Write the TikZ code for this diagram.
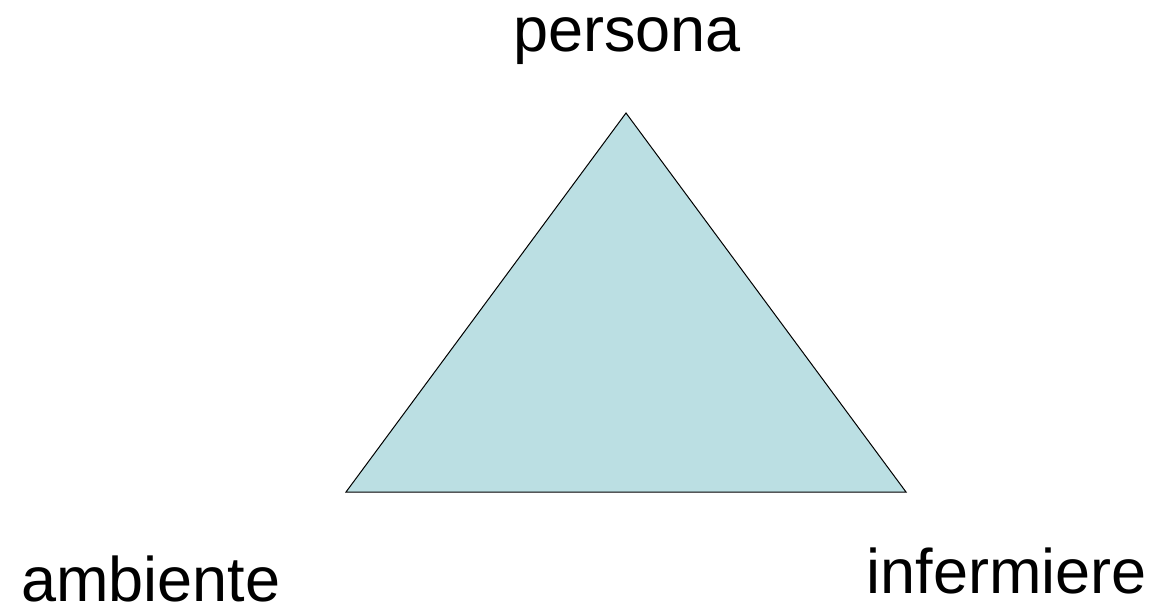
\documentclass[tikz,border=0pt]{standalone}
\usepackage{fontspec}
\setmainfont{Liberation Sans}
\definecolor{trifill}{HTML}{BBDFE3}
\begin{document}
\begin{tikzpicture}[x=1pt,y=-1pt,
  lbl/.style={font=\fontsize{63}{70}\selectfont, inner sep=0pt, anchor=base}]
\useasboundingbox (0,0) rectangle (1156,615);
\coordinate (p) at (626,113);
\coordinate (a) at (346,492);
\coordinate (i) at (906,492);
\filldraw[fill=trifill, draw=black, line width=1pt] (p) -- (a) -- (i) -- cycle;
\node[lbl] (tp) at (627,52) {persona};
\node[lbl] (ta) at (151,601) {ambiente};
\node[lbl] (ti) at (1007,593) {infermiere};
\end{tikzpicture}
\end{document}
